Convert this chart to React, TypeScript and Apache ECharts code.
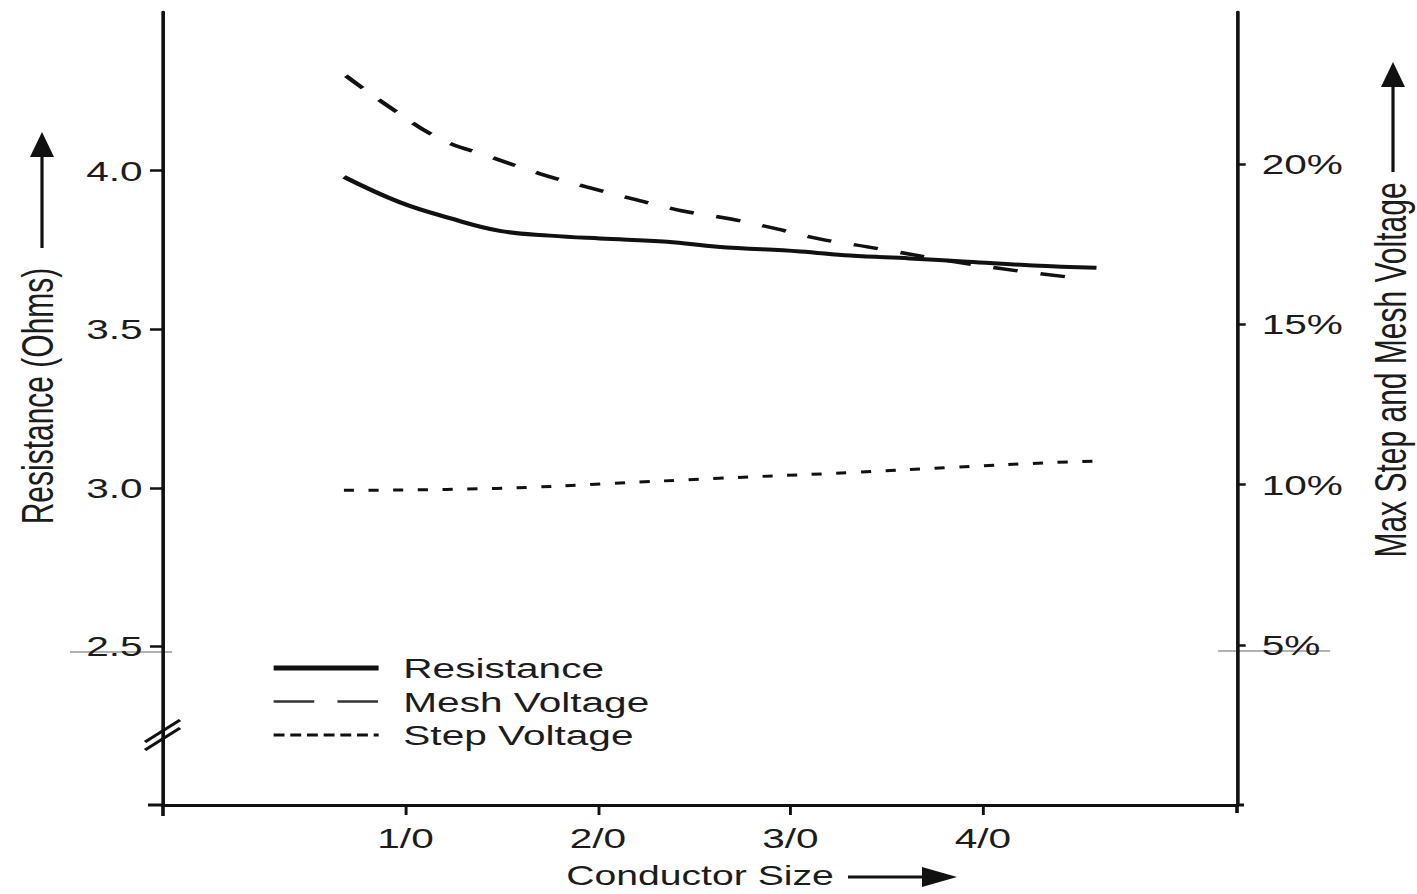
import React, { useEffect, useRef } from "react";
import * as echarts from "echarts";

// ---------- data ----------
const sizeTicks = [1, 2, 3, 4];
const sizeLabels = ["1/0", "2/0", "3/0", "4/0"];
const ohmTicks = [2.5, 3.0, 3.5, 4.0];
const pctTicks = [5, 10, 15, 20];

const resX = [0.68, 0.97, 1.23, 1.49, 1.75, 2.01, 2.36, 2.62, 3.05, 3.31, 3.62, 3.92, 4.26, 4.59];
const resOhms = [3.98, 3.9, 3.85, 3.81, 3.795, 3.786, 3.776, 3.76, 3.745, 3.732, 3.723, 3.713, 3.701, 3.694];

const meshX = [0.69, 0.93, 1.18, 1.44, 1.7, 1.94, 2.18, 2.44, 2.69, 2.93, 3.15, 3.4, 3.83, 4.18, 4.53];
const meshPct = [22.76, 21.73, 20.79, 20.23, 19.7, 19.29, 18.92, 18.54, 18.29, 17.98, 17.67, 17.42, 16.98, 16.67, 16.42];

const stepX = [0.68, 1.47, 2.08, 2.6, 3.33, 3.85, 4.37, 4.59];
const stepPct = [9.82, 9.88, 10.04, 10.19, 10.38, 10.54, 10.69, 10.73];

// ---------- layout (the scanned figure is stretched horizontally) ----------
const PAGE_W = 1417;
const PAGE_H = 894;
const INNER_W = 977;
const STRETCH = PAGE_W / INNER_W;
const px = (pageX: number) => pageX / STRETCH;

const FONT = "'Liberation Sans', Arial, Helvetica, sans-serif";
const INK = "#111";
const TEXT = "#1c1c1c";
const HIDDEN_SYMBOL = { color: "rgba(0,0,0,0)", borderColor: "rgba(0,0,0,0)", borderWidth: 0, opacity: 0 };

const zip = (xs: number[], ys: number[]) => xs.map((x, i) => [x, ys[i]]);

function buildOption(): any {
  const line = (x1: number, y1: number, x2: number, y2: number, w: number, color = INK) => ({
    type: "line",
    silent: true,
    shape: { x1: px(x1), y1, x2: px(x2), y2 },
    style: { stroke: color, lineWidth: w },
  });
  const poly = (pts: number[][]) => ({
    type: "polygon",
    silent: true,
    shape: { points: pts.map(([x, y]) => [px(x), y]) },
    style: { fill: INK },
  });

  return {
    animation: false,
    backgroundColor: "#fff",
    grid: {
      left: px(163),
      right: INNER_W - px(1237),
      top: 12,
      bottom: 89,
      containLabel: false,
      outerBoundsMode: "none",
    },
    legend: {
      orient: "vertical",
      left: px(270),
      top: 654,
      padding: 0,
      itemWidth: px(375) - px(270),
      itemHeight: 14,
      itemGap: 5.5,
      textStyle: { fontFamily: FONT, fontSize: 28, color: TEXT, lineHeight: 28, padding: [0, 0, 0, 12] },
      data: [
        { name: "Resistance", itemStyle: HIDDEN_SYMBOL, lineStyle: { width: 5, type: "solid", color: INK } },
        { name: "Mesh Voltage", itemStyle: HIDDEN_SYMBOL, lineStyle: { width: 2.5, type: [28, 16], color: "#333" } },
        { name: "Step Voltage", itemStyle: HIDDEN_SYMBOL, lineStyle: { width: 3, type: [7.5, 4], color: INK } },
      ],
    },
    xAxis: {
      type: "value",
      min: -0.26,
      max: 5.32,
      name: "Conductor Size",
      nameLocation: "middle",
      nameGap: 57,
      nameTextStyle: { fontFamily: FONT, fontSize: 27, color: TEXT, lineHeight: 27 },
      axisLine: { show: true, onZero: false, lineStyle: { color: INK, width: 3 } },
      axisTick: { show: true, customValues: sizeTicks, length: 10, lineStyle: { color: INK, width: 2 } },
      axisLabel: {
        customValues: sizeTicks,
        formatter: (v: number) => {
          const i = sizeTicks.indexOf(Math.round(v * 1000) / 1000);
          return i >= 0 ? sizeLabels[i] : "";
        },
        margin: 19,
        fontFamily: FONT,
        fontSize: 28,
        color: TEXT,
      },
      splitLine: { show: false },
    },
    yAxis: [
      {
        type: "value",
        position: "left",
        min: 2,
        max: 4.5,
        name: "Resistance (Ohms)",
        nameLocation: "middle",
        nameRotate: 90,
        nameGap: 71,
        nameTextStyle: { fontFamily: FONT, fontSize: 30, color: TEXT, padding: [0, 0, 0, 25] },
        axisLine: { show: true, onZero: false, lineStyle: { color: INK, width: 2.5 } },
        axisTick: { show: true, customValues: ohmTicks, length: 9, lineStyle: { color: INK, width: 2.5 } },
        axisLabel: {
          customValues: ohmTicks,
          formatter: (v: number) => v.toFixed(1),
          margin: 14,
          fontFamily: FONT,
          fontSize: 28,
          color: TEXT,
        },
        splitLine: { show: false },
      },
      {
        type: "value",
        position: "right",
        min: 0,
        max: 24.75,
        name: "Max Step and Mesh Voltage",
        nameLocation: "middle",
        nameRotate: 90,
        nameGap: 91,
        nameTextStyle: { fontFamily: FONT, fontSize: 30, color: TEXT, padding: [0, 0, 0, 77] },
        axisLine: { show: true, onZero: false, lineStyle: { color: INK, width: 2.5 } },
        axisTick: { show: true, customValues: pctTicks, length: 6, lineStyle: { color: INK, width: 2.5 } },
        axisLabel: {
          customValues: pctTicks,
          formatter: (v: number) => `${v}%`,
          margin: 17,
          fontFamily: FONT,
          fontSize: 28,
          color: TEXT,
        },
        splitLine: { show: false },
      },
    ],
    series: [
      {
        name: "Resistance",
        type: "line",
        yAxisIndex: 0,
        data: zip(resX, resOhms),
        smooth: 0.4,
        symbol: "none",
        showSymbol: false,
        lineStyle: { color: INK, width: 4, type: "solid" },
        itemStyle: { color: INK },
      },
      {
        name: "Mesh Voltage",
        type: "line",
        yAxisIndex: 1,
        data: zip(meshX, meshPct),
        smooth: 0.4,
        symbol: "none",
        showSymbol: false,
        lineStyle: { color: INK, width: 3.5, type: [17, 16] },
        itemStyle: { color: INK },
      },
      {
        name: "Step Voltage",
        type: "line",
        yAxisIndex: 1,
        data: zip(stepX, stepPct),
        smooth: 0.4,
        symbol: "none",
        showSymbol: false,
        lineStyle: { color: INK, width: 3, type: [7, 10] },
        itemStyle: { color: INK },
      },
    ],
    graphic: [
      // axis title arrows
      line(42, 248, 42, 152, 2.2),
      poly([[42, 132], [30, 157], [54, 157]]),
      line(1393, 172, 1393, 84, 2.2),
      poly([[1393, 62], [1381, 87], [1405, 87]]),
      line(848, 877, 925, 877, 3),
      poly([[957, 877], [922, 867], [922, 887]]),
      // axis break mark
      line(145, 742, 180, 720, 2.5),
      line(145, 750, 180, 728, 2.5),
      // axis line overhangs
      line(148, 805, 163, 805, 3),
      line(163, 805, 163, 816, 2.5),
      line(1237, 805, 1244, 805, 3),
      line(1237, 805, 1237, 813, 2.5),
      // faint scan rules under 2.5 and 5%
      line(70, 652, 172, 652, 1, "#666"),
      line(1218, 651, 1330, 651, 1, "#666"),
    ],
  };
}

export default function App() {
  const ref = useRef<HTMLDivElement>(null);
  useEffect(() => {
    if (!ref.current) return;
    const chart = echarts.init(ref.current, undefined, { renderer: "svg" });
    chart.setOption(buildOption());
    return () => chart.dispose();
  }, []);
  return (
    <div
      style={{
        position: "fixed",
        left: 0,
        top: 0,
        width: PAGE_W,
        height: PAGE_H,
        overflow: "hidden",
        background: "#fff",
      }}
    >
      <div
        ref={ref}
        style={{
          width: INNER_W,
          height: PAGE_H,
          transform: `scaleX(${STRETCH})`,
          transformOrigin: "0 0",
        }}
      />
    </div>
  );
}
